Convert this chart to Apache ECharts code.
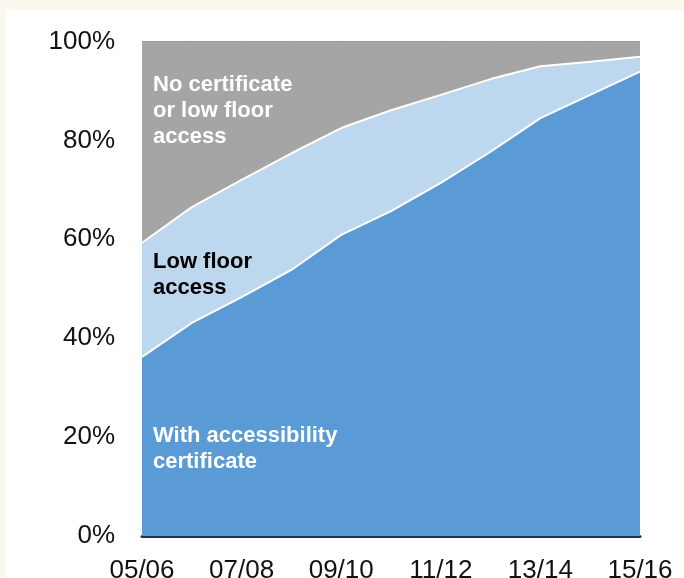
<!DOCTYPE html>
<html>
<head>
<meta charset="utf-8">
<script src="https://cdn.jsdelivr.net/npm/echarts@6/dist/echarts.min.js"></script>
<style>
html,body{margin:0;padding:0;background:#FAF7EF;}
#chart{width:684px;height:578px;}
</style>
</head>
<body>
<div id="chart"></div>
<script>
const categories = ['05/06','06/07','07/08','08/09','09/10','10/11','11/12','12/13','13/14','14/15','15/16'];
const withCertificate = [36.2, 43.1, 48.3, 53.8, 60.9, 65.7, 71.4, 77.7, 84.5, 89.2, 93.9];
const lowFloorAccess = [23.1, 23.4, 23.7, 23.6, 21.6, 20.4, 17.8, 14.7, 10.5, 6.7, 3.0];
const noCertificate = [40.7, 33.5, 28.0, 22.6, 17.5, 13.9, 10.8, 7.6, 5.0, 4.1, 3.1];
const yTicks = [0, 20, 40, 60, 80, 100];

const chart = echarts.init(document.getElementById('chart'));
const font = '"Liberation Sans", Arial, sans-serif';
const areaLabel = (text, x, y, color) => ({
  type: 'text', left: x, top: y, z: 100,
  style: { text: text, fill: color, font: 'bold 22px ' + font, lineHeight: 26 }
});
chart.setOption({
  backgroundColor: '#FAF7EF',
  animation: false,
  grid: { left: 142, right: 44, top: 41.5, bottom: 42, containLabel: false, outerBoundsMode: 'none' },
  xAxis: {
    type: 'category', data: categories, boundaryGap: false,
    axisTick: { show: false },
    axisLine: { show: true, lineStyle: { color: '#1E3550', width: 3 } },
    axisLabel: { interval: 1, color: '#111', fontSize: 26, fontFamily: font, margin: 22 },
    splitLine: { show: false }
  },
  yAxis: {
    type: 'value', min: yTicks[0], max: yTicks[yTicks.length - 1], interval: 20,
    axisLine: { show: false }, axisTick: { show: false }, splitLine: { show: false },
    axisLabel: { formatter: '{value}%', color: '#111', fontSize: 26, fontFamily: font, margin: 27 }
  },
  graphic: [
    { type: 'rect', shape: { x: 6, y: 10, width: 700, height: 600 }, style: { fill: '#FFFFFF' }, z: -10, silent: true },
    areaLabel('No certificate\nor low floor\naccess', 153, 72, '#FFFFFF'),
    areaLabel('Low floor\naccess', 153, 249, '#000000'),
    areaLabel('With accessibility\ncertificate', 153, 423, '#FFFFFF')
  ],
  series: [
    {
      name: 'With accessibility certificate', type: 'line', stack: 'total', data: withCertificate,
      showSymbol: false, symbol: 'none',
      lineStyle: { color: '#FFFFFF', width: 2 },
      areaStyle: { color: '#5B9BD5', opacity: 1 }, z: 4
    },
    {
      name: 'Low floor access', type: 'line', stack: 'total', data: lowFloorAccess,
      showSymbol: false, symbol: 'none',
      lineStyle: { color: '#FFFFFF', width: 2 },
      areaStyle: { color: '#BDD7EE', opacity: 1 }, z: 3
    },
    {
      name: 'No certificate or low floor access', type: 'line', stack: 'total', data: noCertificate,
      showSymbol: false, symbol: 'none',
      lineStyle: { color: '#999999', width: 1 },
      areaStyle: { color: '#A5A5A5', opacity: 1 }, z: 2
    }
  ]
});
</script>
</body>
</html>
